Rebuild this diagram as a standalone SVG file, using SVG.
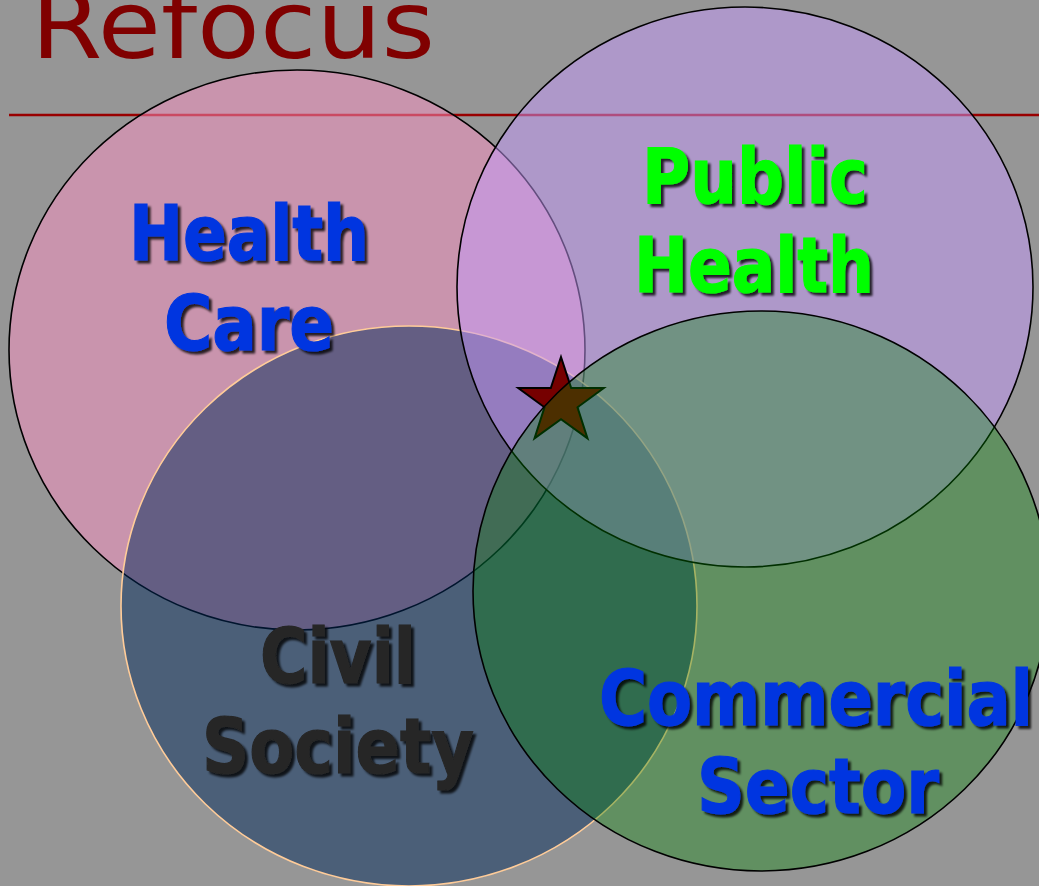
<svg xmlns="http://www.w3.org/2000/svg" width="1039" height="886" viewBox="0 0 1039 886">
  <defs>
    <filter id="shadow" x="-10%" y="-20%" width="130%" height="150%">
      <feDropShadow dx="3" dy="3" stdDeviation="1" flood-color="#000" flood-opacity="0.8"/>
    </filter>
  </defs>
  <style>
    .circle { stroke-width: 1.6; }
    .label { font-family: "DejaVu Sans", Verdana, sans-serif; font-weight: bold; font-size: 76px; text-anchor: middle; filter: url(#shadow); stroke-width: 1.2; }
    .blue { fill: #0036E0; stroke: #0036E0; }
    .green { fill: #00FF00; stroke: #00FF00; }
    .dark { fill: #262626; stroke: #262626; }
    .title { font-family: "DejaVu Sans", Verdana, sans-serif; font-size: 95px; fill: #800000; }
  </style>
  <rect x="0" y="0" width="1039" height="886" fill="#969696"/>
  <g id="title">
    <text class="title" x="31" y="58" textLength="404" lengthAdjust="spacingAndGlyphs">Refocus</text>
    <line x1="9" y1="115" x2="1039" y2="115" stroke="#990000" stroke-width="2.5"/>
  </g>
  <g id="health-care">
    <ellipse class="circle" cx="297" cy="350" rx="288" ry="280" fill="#FC92C4" fill-opacity="0.5" stroke="#000"/>
  </g>
  <g id="civil-society">
    <ellipse class="circle" cx="409" cy="606" rx="288" ry="280" fill="#00285A" fill-opacity="0.5" stroke="#FFCC99" stroke-width="2"/>
  </g>
  <g id="public-health">
    <ellipse class="circle" cx="745" cy="287" rx="288" ry="280" fill="#C699FC" fill-opacity="0.5" stroke="#000"/>
  </g>
  <g id="star">
    <polygon points="561,357 571.2,388 603.8,388.1 577.5,407.3 587.5,438.4 561,419.3 534.5,438.4 544.5,407.3 518.2,388.1 550.8,388" fill="#760000" stroke="#000" stroke-width="2" stroke-linejoin="miter"/>
  </g>
  <g id="commercial-sector">
    <ellipse class="circle" cx="761" cy="591" rx="288" ry="280" fill="#008600" fill-opacity="0.35" stroke="#000"/>
  </g>
  <g id="labels">
    <text class="label blue" x="249" y="260" textLength="240" lengthAdjust="spacingAndGlyphs">Health</text>
    <text class="label blue" x="249" y="350" textLength="170" lengthAdjust="spacingAndGlyphs">Care</text>
    <text class="label green" x="755" y="203" textLength="226" lengthAdjust="spacingAndGlyphs">Public</text>
    <text class="label green" x="754" y="292" textLength="240" lengthAdjust="spacingAndGlyphs">Health</text>
    <text class="label dark" x="338" y="683" textLength="156" lengthAdjust="spacingAndGlyphs">Civil</text>
    <text class="label dark" x="338" y="773" textLength="272" lengthAdjust="spacingAndGlyphs">Society</text>
    <text class="label blue" x="816" y="725" textLength="434" lengthAdjust="spacingAndGlyphs">Commercial</text>
    <text class="label blue" x="818" y="813" textLength="242" lengthAdjust="spacingAndGlyphs">Sector</text>
  </g>
</svg>
